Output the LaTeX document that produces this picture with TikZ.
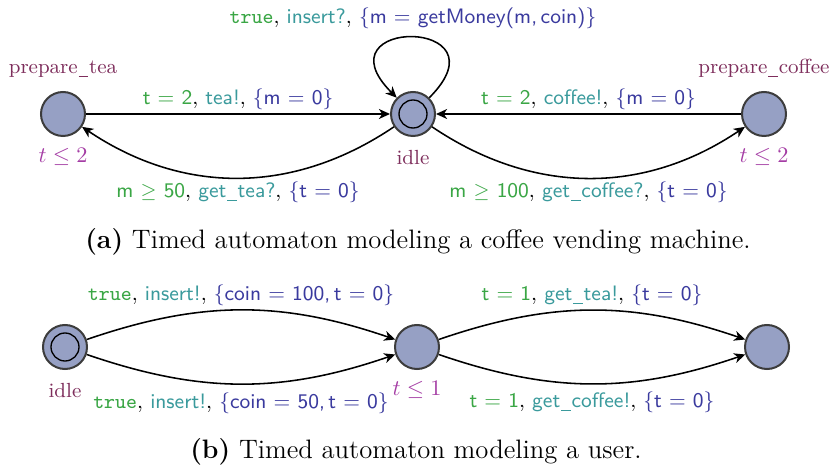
\documentclass[tikz,border=0pt]{standalone}
\usetikzlibrary{arrows.meta}

\definecolor{locfill}{HTML}{96A0C4}
\definecolor{locdraw}{HTML}{3C3C3C}
\definecolor{locname}{HTML}{7E2E5C}
\definecolor{invcol}{HTML}{A43CA4}
\definecolor{guardcol}{HTML}{3AA645}
\definecolor{synccol}{HTML}{3A9A9C}
\definecolor{updcol}{HTML}{3A3A9E}

\newcommand{\guard}[1]{\textcolor{guardcol}{\textsf{#1}}}
\newcommand{\sync}[1]{\textcolor{synccol}{\textsf{#1}}}
\newcommand{\upd}[1]{\textcolor{updcol}{\textsf{\{#1\}}}}
\newcommand{\us}{\kern0.4pt\rule[-1.3pt]{4.3pt}{0.45pt}\kern0.4pt}

\tikzset{
  loc/.style={circle,draw=locdraw,fill=locfill,line width=0.9pt,minimum size=19.8pt,inner sep=0pt},
  initloc/.style={circle,draw,line width=0.6pt,minimum size=12.6pt,inner sep=0pt},
  locname/.style={text=locname,font=\fontsize{9.2}{11}\selectfont,label distance=2.5pt},
  inv/.style={text=invcol,label distance=1.5pt},
  trans/.style={-{Stealth[length=5pt,width=4.5pt,inset=1.5pt]},line width=0.7pt},
  tlabel/.style={font=\fontsize{9.4}{11}\selectfont,inner sep=1.5pt},
}

\begin{document}
\begin{tikzpicture}[x=0.45pt,y=0.45pt]
      \useasboundingbox (0,0) rectangle (831,469);

      % (a) coffee machine
      \node[loc, label={[locname]above:prepare\us tea}, label={[inv]below:$t \leq 2$}] (tea) at (63,355) {};
      \node[loc, label={[locname]below:idle}] (idle) at (413,355) {};
      \node[initloc] (idlein) at (idle) {};
      \node[loc, label={[locname]above:prepare\us coffee}, label={[inv]below:$t \leq 2$}] (coffee) at (764,355) {};

      \draw[trans] (tea) -- node[tlabel,above] {\guard{t = 2}, \sync{tea!}, \upd{m = 0}} (idle);
      \draw[trans] (idle) to[bend left=34] node[tlabel,below] {\guard{m $\geq$ 50}, \sync{get\us tea?}, \upd{t = 0}} (tea);
      \draw[trans] (coffee) -- node[tlabel,above] {\guard{t = 2}, \sync{coffee!}, \upd{m = 0}} (idle);
      \draw[trans] (idle) to[bend right=34] node[tlabel,below] {\guard{m $\geq$ 100}, \sync{get\us coffee?}, \upd{t = 0}} (coffee);
      \draw[trans] (idle) to[out=45,in=135,looseness=9] node[tlabel,above=2pt] {\guard{\texttt{true}}, \sync{insert?}, \upd{m = getMoney(m,\,coin)}} (idle);

      \node[font=\large] (capa) at (418,227) {\textbf{(a)} Timed automaton modeling a coffee vending machine.};

      % (b) user
      \node[loc, label={[locname]below:idle}] (uidle) at (65,122) {};
      \node[initloc] (uidlein) at (uidle) {};
      \node[loc, label={[inv]below:$t \leq 1$}] (uwait) at (417,122) {};
      \node[loc] (udone) at (767,122) {};

      \draw[trans] (uidle) to[bend left=19] node[tlabel,above] {\guard{\texttt{true}}, \sync{insert!}, \upd{coin = 100,\,t = 0}} (uwait);
      \draw[trans] (uidle) to[bend right=19] node[tlabel,below=2pt] {\guard{\texttt{true}}, \sync{insert!}, \upd{coin = 50,\,t = 0}} (uwait);
      \draw[trans] (uwait) to[bend left=19] node[tlabel,above] {\guard{t = 1}, \sync{get\us tea!}, \upd{t = 0}} (udone);
      \draw[trans] (uwait) to[bend right=19] node[tlabel,below=2pt] {\guard{t = 1}, \sync{get\us coffee!}, \upd{t = 0}} (udone);

      \node[font=\large] (capb) at (416,17) {\textbf{(b)} Timed automaton modeling a user.};
\end{tikzpicture}
\end{document}
